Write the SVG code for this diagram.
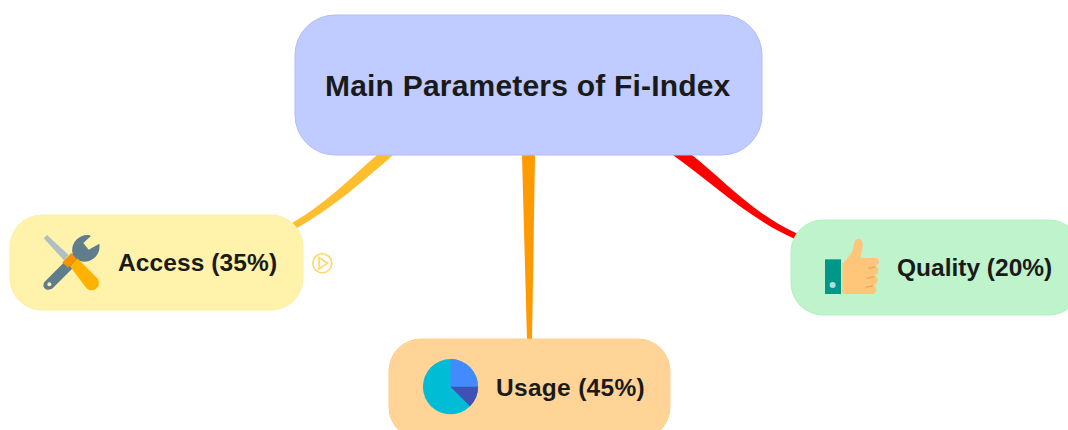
<svg xmlns="http://www.w3.org/2000/svg" width="1068" height="430" viewBox="0 0 1068 430">
<style>
text{font-family:"Liberation Sans",Arial,sans-serif;font-weight:700;fill:#1a1a1a}
.main{font-size:30px;letter-spacing:.2px}
.lab{font-size:24.5px}
</style>
<rect width="1068" height="430" fill="#ffffff"/>
<g id="connectors">
<path d="M377 155L393 155C360 184 332 208 297 228L292 223C325 204 347 181 377 155Z" fill="#ffbe2e"/>
<path d="M522 155L535 155L532 340L527 340Z" fill="#ff9a00"/>
<path d="M673 155L692 155C725 181 752 213 798 234L795 239C750 219 713 184 673 155Z" fill="#ff0000"/>
</g>
<g id="node-main">
<rect x="295" y="15" width="467" height="140" rx="40" fill="#c0cbff" stroke="#b0bdfb"/>
<text class="main" x="325" y="96">Main Parameters of Fi-Index</text>
</g>
<g id="node-access">
<rect x="10" y="215" width="293" height="95" rx="32" fill="#fff3ab" stroke="#ffeea0"/>
<g id="icon-tools" transform="translate(30 225) scale(.3333)">
<path d="M41 40L51 30L116 90L102 106Z" fill="#b0bec5"/>
<path d="M44 170L128 86C120 56 146 26 178 30L182 34L160 54L176 74L208 56C214 90 182 118 150 108L68 190C50 202 32 186 44 170Z" fill="#607d8b"/>
<circle cx="58" cy="178" r="6" fill="#fff3ab"/>
<path d="M120 124L142 100L204 162C216 186 188 208 168 188Z" fill="#ffb300"/>
<path d="M97 112L124 84L140 102L114 128Z" fill="#f59300"/>
</g>
<text class="lab" x="118" y="271" letter-spacing=".1">Access (35%)</text>
</g>
<g id="node-usage">
<rect x="389" y="339" width="281" height="100" rx="32" fill="#ffd496" stroke="#fbcf8e"/>
<g id="icon-pie">
<circle cx="450.5" cy="386.7" r="27.6" fill="#00bcd4"/>
<path d="M450.5 386.7V359.1A27.6 27.6 0 0 1 478.1 386.7Z" fill="#448aff"/>
<path d="M450.5 386.7H478.1A27.6 27.6 0 0 1 470 406.2Z" fill="#3f51b5"/>
</g>
<text class="lab" x="496" y="396" letter-spacing=".3">Usage (45%)</text>
</g>
<g id="node-quality">
<rect x="791" y="220" width="290" height="95" rx="32" fill="#bff3cb" stroke="#b0f0c0"/>
<g id="icon-thumb" transform="translate(815 230) scale(.3333)">
<rect x="30" y="88" width="48" height="104" fill="#009688"/>
<circle cx="53" cy="165" r="9" fill="#b2dfdb"/>
<path d="M82 100C98 86 110 70 115 55C117 42 118 27 130 27C143 27 145 42 142 56L136 84H182C196 86 196 104 180 108C194 112 194 132 179 136C191 142 191 162 176 165C187 170 187 192 173 192H92C86 192 82 190 82 186Z" fill="#ffc67a"/>
<path d="M160 115L180 111M155 145L178 140M152 172L174 167" stroke="#f0a35e" stroke-width="4" fill="none"/>
</g>
<text class="lab" x="897" y="276">Quality (20%)</text>
</g>
<g id="collapse-access" fill="none" stroke="#ffd766" stroke-width="1.6">
<circle cx="322.3" cy="263.3" r="9.5"/>
<path d="M319 257.5L327.5 263.3L319 269Z"/>
</g>
</svg>
